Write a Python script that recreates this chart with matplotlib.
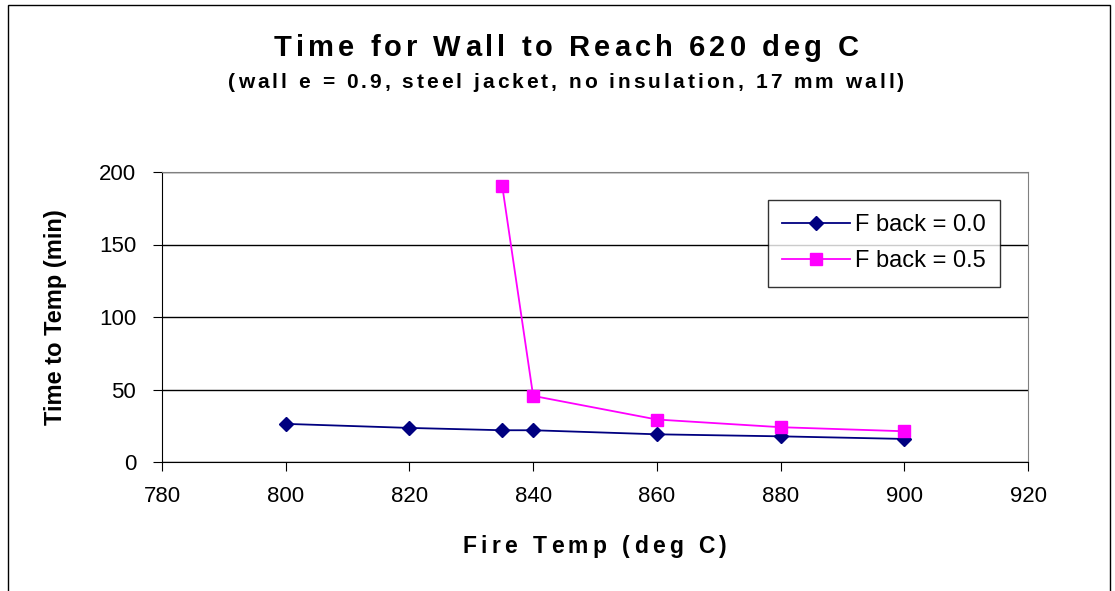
import matplotlib.pyplot as plt
from matplotlib.patches import Rectangle
from matplotlib.font_manager import FontProperties, findfont, get_font
from matplotlib.ft2font import LoadFlags

plt.rcParams['font.family'] = ['Liberation Sans', 'DejaVu Sans']

# data
temp_f0 = [800, 820, 835, 840, 860, 880, 900]
time_f0 = [26.3, 23.5, 21.9, 21.9, 19.1, 17.7, 15.9]
temp_f5 = [835, 840, 860, 880, 900]
time_f5 = [190.5, 45.6, 29.3, 24.0, 21.2]

x_ticks = [780, 800, 820, 840, 860, 880, 900, 920]
y_ticks = [0, 50, 100, 150, 200]

W, H = 1115, 591
fig = plt.figure(figsize=(W / 100, H / 100), dpi=100)


def spaced_text(s, x_left, x_right, y_base, size, weight='bold'):
    # old Excel charts stretch their titles with wide letter spacing;
    # place each character by its advance width plus an even gap
    prop = FontProperties(family='Liberation Sans', weight=weight, size=size)
    font = get_font(findfont(prop))
    font.set_size(size, 100)
    adv = []
    for c in s:
        g = font.load_char(ord(c), flags=LoadFlags.NO_HINTING)
        adv.append(g.linearHoriAdvance / 65536)
    extra = (x_right - x_left - sum(adv)) / (len(s) - 1)
    x = x_left
    for c, a in zip(s, adv):
        if c != ' ':
            fig.text(x / W, 1 - y_base / H, c, fontproperties=prop,
                     ha='left', va='baseline')
        x += a + extra


ax_l, ax_r, ax_t, ax_b = 162, 1028, 172, 462
ax = fig.add_axes([ax_l / W, 1 - ax_b / H, (ax_r - ax_l) / W, (ax_b - ax_t) / H])

# outer chart border
fig.patches.append(Rectangle((8 / W, -0.02), 1102 / W, 1 - 5 / H + 0.02,
                             transform=fig.transFigure, fill=False,
                             edgecolor='black', linewidth=1))

ax.plot(temp_f0, time_f0, color='#000080', marker='D', markersize=7,
        linewidth=1.3, label='F back = 0.0')
ax.plot(temp_f5, time_f5, color='#FF00FF', marker='s', markersize=9,
        linewidth=1.3, label='F back = 0.5')

ax.set_xlim(780, 920)
ax.set_ylim(0, 200)
ax.set_xticks(x_ticks)
ax.set_yticks(y_ticks)
ax.tick_params(labelsize=16, direction='out', length=6.5, color='black')
ax.tick_params(axis='x', pad=11)
ax.tick_params(axis='y', pad=12)
ax.yaxis.grid(True, color='black', linewidth=1)
ax.set_axisbelow(True)

for side in ['top', 'right']:
    ax.spines[side].set_color('#808080')
for side in ['left', 'bottom']:
    ax.spines[side].set_color('black')

ylab = ax.set_ylabel('Time to Temp (min)', fontsize=17, fontweight='bold')
ylab.set_va('center')
ax.yaxis.set_label_coords((56 - ax_l) / (ax_r - ax_l), 0.5)

spaced_text('Time for Wall to Reach 620 deg C', 274, 859, 56, 21)
spaced_text('(wall e = 0.9, steel jacket, no insulation, 17 mm wall)', 228, 904, 88, 15)
spaced_text('Fire Temp (deg C)', 462, 727, 553, 16.5)

leg = ax.legend(loc='upper right',
                bbox_to_anchor=((1000 - ax_l) / (ax_r - ax_l), (ax_b - 200) / (ax_b - ax_t)),
                fontsize=17, frameon=True, fancybox=False, edgecolor='black',
                handlelength=2.9, handletextpad=0.2, borderpad=0.6,
                labelspacing=0.6, borderaxespad=0)
leg.get_frame().set_linewidth(1)

fig.savefig('out.png', dpi=100)
